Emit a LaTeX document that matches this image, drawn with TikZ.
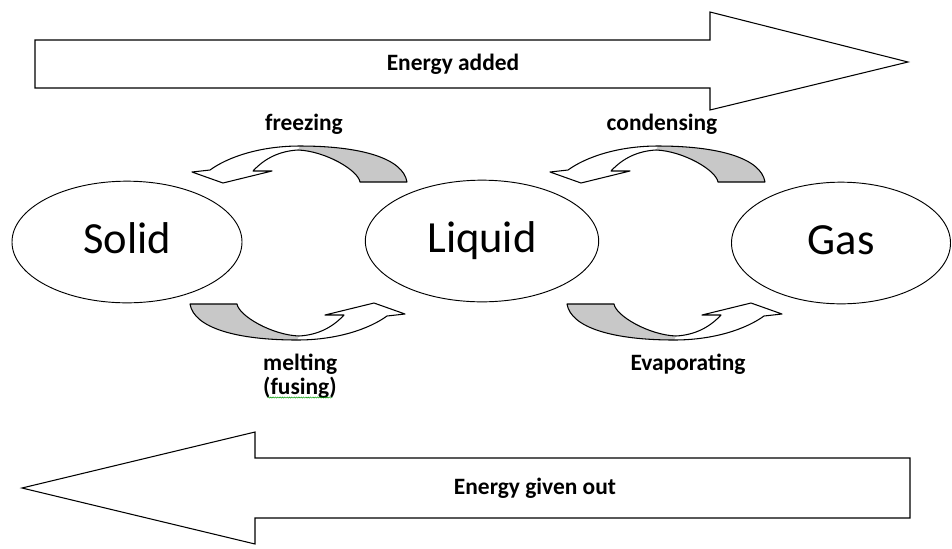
\documentclass[tikz,border=0pt]{standalone}
\usepackage{fontspec}
\setmainfont{Carlito}
\usepackage{tikz}
\usetikzlibrary{positioning, shapes.geometric, decorations.pathmorphing}

\definecolor{bandgrey}{RGB}{200,200,200}

\tikzset{
  phase/.style={ellipse, draw, line width=0.8pt, inner sep=0pt, minimum height=3.65cm, text height=20pt, text depth=0pt, font=\fontsize{38}{40}\selectfont},
  lbl/.style={font=\bfseries\fontsize{20}{24}\selectfont, inner sep=0pt},
  bigarrow/.style={draw, line width=0.9pt, line join=miter, fill=white}
}

\newcommand{\turnarrow}[2]{%
  \begin{scope}[shift={#1}, #2]
    \fill[white] (0,-19) .. controls (-40,-19) and (-72,-8) .. (-90,5) -- (-108,7) -- (-77,18) -- (-28,6) -- (-47,6) .. controls (-35,-7) and (-20,-14) .. (-2,-15) -- cycle;
    \fill[bandgrey] (0,-19) .. controls (60,-19) and (103,-7) .. (107,17) -- (60,17) .. controls (58,5) and (25,-14) .. (-2,-15) -- cycle;
    \draw[line width=0.9pt, line join=round] (107,17) .. controls (103,-7) and (60,-19) .. (0,-19) .. controls (-40,-19) and (-72,-8) .. (-90,5) -- (-108,7) -- (-77,18) -- (-28,6) -- (-47,6) .. controls (-35,-7) and (-20,-14) .. (-2,-15) .. controls (25,-14) and (58,5) .. (60,17) -- cycle;
  \end{scope}}

\begin{document}
\begin{tikzpicture}[x=0.03cm, y=-0.03cm]
		\useasboundingbox (0,0) rectangle (952,548);
		
		\draw [bigarrow] (35,40) -- (710,40) -- (710,12) -- (908,62) -- (710,110) -- (710,88) -- (35,88) -- cycle;
		\node (added) [lbl] at (453,64) {Energy added};
		
		\draw [bigarrow] (910,458) -- (255,458) -- (255,432) -- (22,488) -- (255,544) -- (255,518) -- (910,518) -- cycle;
		\node (givenout) [lbl] at (535,488) {Energy given out};
		
		\node (solid) [phase, minimum width=6.9cm] at (127,242) {Solid};
		\node (liquid) [phase, minimum width=7.0cm] at (482,241) {Liquid};
		\node (gas) [phase, minimum width=6.57cm] at (841,243) {Gas};
		
		\turnarrow{(300,165)}{}
		\turnarrow{(658,165)}{}
		\turnarrow{(297,321)}{rotate=180}
		\turnarrow{(674,321)}{rotate=180}
		
		\node (freezing) [lbl, anchor=base] at (304,130) {freezing};
		\node (condensing) [lbl, anchor=base] at (662,130) {condensing};
		\node (melting) [lbl, anchor=base west] at (263,370) {melting};
		\node (fusing) [lbl, anchor=base west] at (263,394) {(fusing)};
		\node (evaporating) [lbl, anchor=base] at (688,370) {Evaporating};
		
		\draw [green!60!black, decorate, decoration={snake, amplitude=0.5pt, segment length=2pt}] ([xshift=4pt, yshift=-3pt]fusing.base west) -- ([xshift=-4pt, yshift=-3pt]fusing.base east);
		
	\end{tikzpicture}
\end{document}
